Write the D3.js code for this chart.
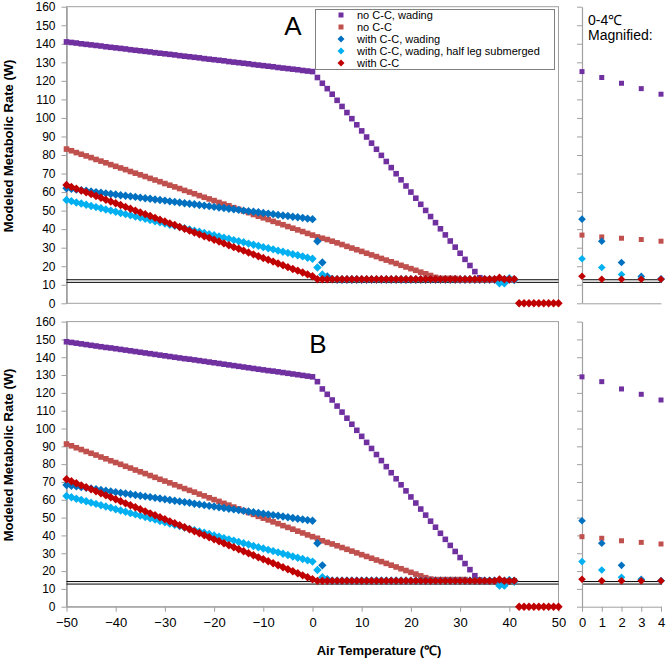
<!DOCTYPE html>
<html><head><meta charset="utf-8">
<script src="https://cdn.jsdelivr.net/npm/d3@7"></script>
<style>
body{margin:0;background:#fff}
svg text{font-family:"Liberation Sans",Arial,sans-serif}
</style>
</head><body>
<svg id="c" width="667" height="659"></svg>
<script>
// ---------- DATA ----------
const temps = [-50,-49,-48,-47,-46,-45,-44,-43,-42,-41,
 -40,-39,-38,-37,-36,-35,-34,-33,-32,-31,
 -30,-29,-28,-27,-26,-25,-24,-23,-22,-21,
 -20,-19,-18,-17,-16,-15,-14,-13,-12,-11,
 -10,-9,-8,-7,-6,-5,-4,-3,-2,-1,
 0,1,2,3,4,5,6,7,8,9,
 10,11,12,13,14,15,16,17,18,19,
 20,21,22,23,24,25,26,27,28,29,
 30,31,32,33,34,35,36,37,38,39,
 40,41,42,43,44,45,46,47,48,49,
 50];

const seriesNames = ["no C-C, wading","no C-C","with C-C, wading","with C-C, wading, half leg submerged","with C-C"];
const seriesColors = ["#7030A0","#C0504D","#0070C0","#00B0F0","#C00000"];
const seriesShapes = ["square","square","diamond","diamond","diamond"];

const yTicks = [0,10,20,30,40,50,60,70,80,90,100,110,120,130,140,150,160];
const xTicks = [-50,-40,-30,-20,-10,0,10,20,30,40,50];
const magTicks = [0,1,2,3,4];

// Panel A
const aPurple = [141.0,140.7,140.4,140.0,139.7,139.4,139.1,138.8,138.4,138.1,
 137.8,137.5,137.2,136.8,136.5,136.2,135.9,135.6,135.2,134.9,
 134.6,134.3,134.0,133.6,133.3,133.0,132.7,132.4,132.0,131.7,
 131.4,131.1,130.8,130.4,130.1,129.8,129.5,129.2,128.8,128.5,
 128.2,127.9,127.6,127.2,126.9,126.6,126.3,126.0,125.6,125.3,
 125.0,121.8,118.7,115.8,112.8,109.5,106.2,102.9,99.6,96.3,
 93.0,89.7,86.4,83.1,79.8,76.5,73.2,69.9,66.6,63.3,
 60.0,56.7,53.4,50.1,46.8,43.5,40.2,36.9,33.6,30.3,
 27.0,23.7,20.4,17.1,13.8,12.8,12.8,12.8,12.8,12.8,
 12.8,12.8,null,null,null,null,null,null,null,null,
 null];
const aBrown = [83.2,82.3,81.3,80.4,79.5,78.6,77.6,76.7,75.8,74.8,
 73.9,73.0,72.1,71.1,70.2,69.3,68.4,67.4,66.5,65.6,
 64.6,63.7,62.8,61.9,60.9,60.0,59.1,58.1,57.2,56.3,
 55.4,54.4,53.5,52.6,51.6,50.7,49.8,48.9,47.9,47.0,
 46.1,45.2,44.2,43.3,42.4,41.4,40.5,39.6,38.7,37.7,
 36.8,35.8,35.1,34.4,33.5,32.6,31.7,30.7,29.8,28.9,
 28.0,27.0,26.1,25.2,24.2,23.3,22.4,21.5,20.5,19.6,
 18.7,17.8,16.8,15.9,15.0,14.0,13.4,13.4,13.4,13.4,
 12.6,12.6,12.6,12.6,12.6,12.6,12.6,12.6,12.6,12.6,
 12.6,12.6,null,null,null,null,null,null,null,null,
 null];
const aBlue = [62.0,61.7,61.3,61.0,60.7,60.3,60.0,59.7,59.3,59.0,
 58.7,58.3,58.0,57.7,57.4,57.0,56.7,56.4,56.0,55.7,
 55.4,55.0,54.7,54.4,54.0,53.7,53.4,53.0,52.7,52.4,
 52.0,51.7,51.4,51.0,50.7,50.4,50.0,49.7,49.4,49.1,
 48.7,48.4,48.1,47.7,47.4,47.1,46.7,46.4,46.1,45.7,
 45.4,33.5,22.0,14.5,13.2,12.8,12.8,12.8,12.8,12.8,
 12.8,12.8,12.8,12.8,12.8,12.8,12.8,12.8,12.8,12.8,
 12.8,12.8,12.8,12.8,12.8,12.8,12.8,12.8,12.8,12.8,
 12.8,12.8,12.8,12.8,12.8,12.8,12.8,12.8,12.8,12.8,
 12.8,12.8,null,null,null,null,null,null,null,null,
 null];
const aLightBlue = [55.7,55.1,54.4,53.8,53.2,52.5,51.9,51.3,50.6,50.0,
 49.4,48.7,48.1,47.5,46.8,46.2,45.6,44.9,44.3,43.7,
 43.0,42.4,41.8,41.1,40.5,39.9,39.2,38.6,37.9,37.3,
 36.7,36.0,35.4,34.8,34.1,33.5,32.9,32.2,31.6,31.0,
 30.3,29.7,29.1,28.4,27.8,27.2,26.5,25.9,25.3,24.6,
 24.0,19.3,15.5,13.3,13.0,12.8,12.8,12.8,12.8,12.8,
 12.8,12.8,12.8,12.8,12.8,12.8,12.8,12.8,12.8,12.8,
 12.8,12.8,12.8,12.8,12.8,12.8,12.8,12.8,12.8,12.8,
 12.8,12.8,12.8,12.8,12.8,12.8,12.8,12.8,10.8,10.8,
 13.5,12.5,null,null,null,null,null,null,null,null,
 null];
const aRed = [63.8,62.8,61.8,60.8,59.9,58.9,57.9,56.9,55.9,54.9,
 54.0,53.0,52.0,51.0,50.0,49.0,48.1,47.1,46.1,45.1,
 44.1,43.1,42.2,41.2,40.2,39.2,38.2,37.2,36.2,35.3,
 34.3,33.3,32.3,31.3,30.3,29.4,28.4,27.4,26.4,25.4,
 24.4,23.5,22.5,21.5,20.5,19.5,18.5,17.6,16.6,15.6,
 14.6,13.0,13.0,13.0,13.0,13.0,13.0,13.0,13.0,13.0,
 13.0,13.0,13.0,13.0,13.0,13.0,13.0,13.0,13.0,13.0,
 13.0,13.0,13.0,13.0,13.0,13.0,13.0,13.0,13.0,13.0,
 13.0,13.0,13.0,13.0,13.0,13.0,13.0,13.0,13.8,13.0,
 13.0,13.0,0,0,0,0,0,0,0,0,
 0];
const aRefLines = [11.3, 12.7];

// Panel B
const bPurple = [148.7,148.3,147.9,147.5,147.1,146.7,146.3,145.9,145.5,145.2,
 144.8,144.4,144.0,143.6,143.2,142.8,142.4,142.0,141.6,141.2,
 140.8,140.4,140.0,139.6,139.2,138.9,138.5,138.1,137.7,137.3,
 136.9,136.5,136.1,135.7,135.3,134.9,134.5,134.1,133.7,133.3,
 132.9,132.5,132.2,131.8,131.4,131.0,130.6,130.2,129.8,129.4,
 129.0,126.3,122.2,119.2,116.0,112.6,109.2,105.8,102.4,99.0,
 95.6,92.2,88.8,85.4,82.0,78.6,75.2,71.8,68.4,65.0,
 61.6,58.2,54.8,51.4,48.0,44.6,41.2,37.8,34.4,31.0,
 27.6,24.2,20.8,17.4,15.0,14.5,14.5,14.5,14.5,14.5,
 14.5,14.5,null,null,null,null,null,null,null,null,
 null];
const bBrown = [91.3,90.3,89.2,88.2,87.1,86.1,85.1,84.0,83.0,81.9,
 80.9,79.9,78.8,77.8,76.7,75.7,74.7,73.6,72.6,71.5,
 70.5,69.5,68.4,67.4,66.3,65.3,64.3,63.2,62.2,61.1,
 60.1,59.1,58.0,57.0,55.9,54.9,53.9,52.8,51.8,50.7,
 49.7,48.7,47.6,46.6,45.5,44.5,43.5,42.4,41.4,40.3,
 39.3,38.4,37.0,36.1,35.2,34.2,33.2,32.2,31.2,30.2,
 29.2,28.2,27.2,26.2,25.3,24.3,23.3,22.3,21.3,20.3,
 19.3,18.3,17.3,16.3,15.5,15.2,15.2,15.2,15.2,15.2,
 15.2,15.2,14.5,14.5,14.5,14.5,14.5,14.5,14.5,14.5,
 14.5,14.5,null,null,null,null,null,null,null,null,
 null];
const bBlue = [68.3,67.9,67.5,67.1,66.7,66.3,65.9,65.5,65.1,64.7,
 64.3,63.9,63.5,63.1,62.7,62.3,61.9,61.5,61.1,60.7,
 60.3,59.9,59.5,59.1,58.7,58.3,57.8,57.4,57.0,56.6,
 56.2,55.8,55.4,55.0,54.6,54.2,53.8,53.4,53.0,52.6,
 52.2,51.8,51.4,51.0,50.6,50.2,49.8,49.4,49.0,48.6,
 48.2,35.6,23.2,15.4,14.6,14.6,14.6,14.6,14.6,14.6,
 14.6,14.6,14.6,14.6,14.6,14.6,14.6,14.6,14.6,14.6,
 14.6,14.6,14.6,14.6,14.6,14.6,14.6,14.6,14.6,14.6,
 14.6,14.6,14.6,14.6,14.6,14.6,14.6,14.6,14.6,14.6,
 14.6,14.6,null,null,null,null,null,null,null,null,
 null];
const bLightBlue = [62.1,61.4,60.6,59.9,59.2,58.4,57.7,56.9,56.2,55.5,
 54.7,54.0,53.3,52.5,51.8,51.1,50.3,49.6,48.9,48.1,
 47.4,46.6,45.9,45.2,44.4,43.7,43.0,42.2,41.5,40.8,
 40.0,39.3,38.5,37.8,37.1,36.3,35.6,34.9,34.1,33.4,
 32.7,31.9,31.2,30.5,29.7,29.0,28.2,27.5,26.8,26.0,
 25.3,20.6,16.5,15.0,14.6,14.6,14.6,14.6,14.6,14.6,
 14.6,14.6,14.6,14.6,14.6,14.6,14.6,14.6,14.6,14.6,
 14.6,14.6,14.6,14.6,14.6,14.6,14.6,14.6,14.6,14.6,
 14.6,14.6,14.6,14.6,14.6,14.6,14.6,14.6,11.8,11.8,
 15.0,14.0,null,null,null,null,null,null,null,null,
 null];
const bRed = [71.5,70.4,69.3,68.1,67.0,65.9,64.8,63.6,62.5,61.4,
 60.3,59.2,58.0,56.9,55.8,54.7,53.5,52.4,51.3,50.2,
 49.1,47.9,46.8,45.7,44.6,43.5,42.3,41.2,40.1,39.0,
 37.8,36.7,35.6,34.5,33.4,32.2,31.1,30.0,28.9,27.7,
 26.6,25.5,24.4,23.3,22.1,21.0,19.9,18.8,17.6,16.5,
 15.4,14.5,14.5,14.5,14.5,14.5,14.5,14.5,14.5,14.5,
 14.5,14.5,14.5,14.5,14.5,14.5,14.5,14.5,14.5,14.5,
 14.5,14.5,14.5,14.5,14.5,14.5,14.5,14.5,14.5,14.5,
 14.5,14.5,14.5,14.5,14.5,14.5,14.5,14.5,15.3,14.5,
 14.5,14.5,0,0,0,0,0,0,0,0,
 0];
const bRefLines = [12.7, 14.1];

// ---------- DRAW ----------
[aPurple,aBrown,aBlue,aLightBlue,aRed,bPurple,bBrown,bBlue,bLightBlue,bRed].forEach((a,k)=>{
  if (a.length !== temps.length) throw new Error("length mismatch in series " + k + ": " + a.length);
});

const svg = d3.select("#c");
const AXIS_GRAY = "#a0a0a0";
const x = d3.scaleLinear().domain([-50, 50]).range([66.5, 558.5]);
const xm = d3.scaleLinear().domain([0, 4]).range([582, 661]);

function shapePath(shape, s) {
  if (shape === "square") { const h = s/2; return `M${-h},${-h}H${h}V${h}H${-h}Z`; }
  return `M0,${-s}L${s},0L0,${s}L${-s},0Z`;
}
const SQ = 5.6, DI = 4.2;

const panels = [
  { name:"A", lx:293, ly:35, titleY:146,
    y: d3.scaleLinear().domain([0,160]).range([303.3, 6.7]),
    data:[aPurple,aBrown,aBlue,aLightBlue,aRed], ref:aRefLines, xlabels:false },
  { name:"B", lx:318, ly:353, titleY:455,
    y: d3.scaleLinear().domain([0,160]).range([606.7, 321.6]),
    data:[bPurple,bBrown,bBlue,bLightBlue,bRed], ref:bRefLines, xlabels:true }
];

panels.forEach(p => {
  const y = p.y;
  const g = svg.append("g");
  g.append("rect").attr("x", x(-50)).attr("y", y(160))
    .attr("width", x(50)-x(-50)).attr("height", y(0)-y(160))
    .attr("fill","none").attr("stroke", AXIS_GRAY).attr("stroke-width",1);

  const ya = g.append("g").attr("transform", `translate(${x(-50)},0)`)
    .call(d3.axisLeft(y).tickValues(yTicks).tickSize(5).tickSizeOuter(0).tickPadding(6).tickFormat(d3.format("d")));
  ya.select(".domain").attr("stroke", AXIS_GRAY).attr("stroke-width",1.6);
  ya.selectAll(".tick line").attr("stroke", AXIS_GRAY);
  ya.selectAll(".tick text").attr("font-size", 12).attr("fill","#000")
    .attr("font-family","Liberation Sans, Arial, sans-serif");

  if (p.xlabels) {
    const xa = g.append("g").attr("transform", `translate(0,${y(0)})`)
      .call(d3.axisBottom(x).tickValues(xTicks).tickSize(5).tickSizeOuter(0).tickPadding(6).tickFormat(d3.format("d")));
    xa.select(".domain").attr("stroke", AXIS_GRAY);
    xa.selectAll(".tick line").attr("stroke", AXIS_GRAY);
    xa.selectAll(".tick text").attr("font-size", 13).attr("fill","#000")
      .attr("font-family","Liberation Sans, Arial, sans-serif");
  }

  g.append("text").attr("transform", `translate(13,${p.titleY}) rotate(-90)`)
    .attr("text-anchor","middle").attr("font-size",13).attr("font-weight","bold")
    .text("Modeled Metabolic Rate (W)");

  p.ref.forEach(v => {
    g.append("line").attr("x1", x(-50)).attr("x2", x(50)).attr("y1", y(v)).attr("y2", y(v))
      .attr("stroke","#000").attr("stroke-width",1);
    g.append("line").attr("x1", xm(0)).attr("x2", xm(4)+1).attr("y1", y(v)).attr("y2", y(v))
      .attr("stroke","#000").attr("stroke-width",1);
  });

  p.data.forEach((arr, k) => {
    const pts = temps.map((t,i)=>({t, v:arr[i]})).filter(d => d.v !== null);
    g.append("g").selectAll("path").data(pts).join("path")
      .attr("transform", d => `translate(${x(d.t)},${y(d.v)})`)
      .attr("d", shapePath(seriesShapes[k], seriesShapes[k]==="square"?SQ:DI))
      .attr("fill", seriesColors[k]);
  });

  g.append("text").attr("x", p.lx).attr("y", p.ly).attr("text-anchor","middle")
    .attr("font-size",26).text(p.name);

  const mg = svg.append("g");
  const ma = mg.append("g").attr("transform", `translate(${xm(0)},0)`)
    .call(d3.axisLeft(y).tickValues(yTicks).tickSize(5).tickSizeOuter(0).tickFormat(""));
  ma.select(".domain").attr("stroke", AXIS_GRAY).attr("stroke-width",1.2);
  ma.selectAll(".tick line").attr("stroke", AXIS_GRAY);
  const mb = mg.append("g").attr("transform", `translate(0,${y(0)})`)
    .call(d3.axisBottom(xm).tickValues(magTicks).tickSize(p.xlabels?5:0).tickSizeOuter(0).tickPadding(6)
      .tickFormat(p.xlabels ? d3.format("d") : ""));
  mb.select(".domain").attr("stroke", AXIS_GRAY);
  mb.selectAll(".tick line").attr("stroke", AXIS_GRAY);
  mb.selectAll(".tick text").attr("font-size", 13).attr("fill","#000")
    .attr("font-family","Liberation Sans, Arial, sans-serif");

  p.data.forEach((arr, k) => {
    const pts = temps.map((t,i)=>({t, v:arr[i]})).filter(d => d.v !== null && d.t >= 0 && d.t <= 4);
    mg.append("g").selectAll("path").data(pts).join("path")
      .attr("transform", d => `translate(${xm(d.t)},${y(d.v)})`)
      .attr("d", shapePath(seriesShapes[k], seriesShapes[k]==="square"?5:3.8))
      .attr("fill", seriesColors[k]);
  });
});

svg.append("text").attr("x",588).attr("y",25).attr("font-size",14).text("0-4\u2103");
svg.append("text").attr("x",588).attr("y",40).attr("font-size",14).text("Magnified:");

svg.append("text").attr("x",379).attr("y",655).attr("text-anchor","middle")
  .attr("font-size",13).attr("font-weight","bold").text("Air Temperature (\u2103)");

const lg = svg.append("g");
lg.append("rect").attr("x",315.5).attr("y",9.5).attr("width",239).attr("height",60)
  .attr("fill","#fff").attr("stroke","#808080").attr("stroke-width",1);
seriesNames.forEach((n,k) => {
  const cy = 15 + k*12;
  lg.append("path").attr("transform", `translate(341,${cy})`)
    .attr("d", shapePath(seriesShapes[k], seriesShapes[k]==="square"?5:3.5))
    .attr("fill", seriesColors[k]);
  lg.append("text").attr("x",357).attr("y",cy+4).attr("font-size",11).text(n);
});
</script>
</body></html>
